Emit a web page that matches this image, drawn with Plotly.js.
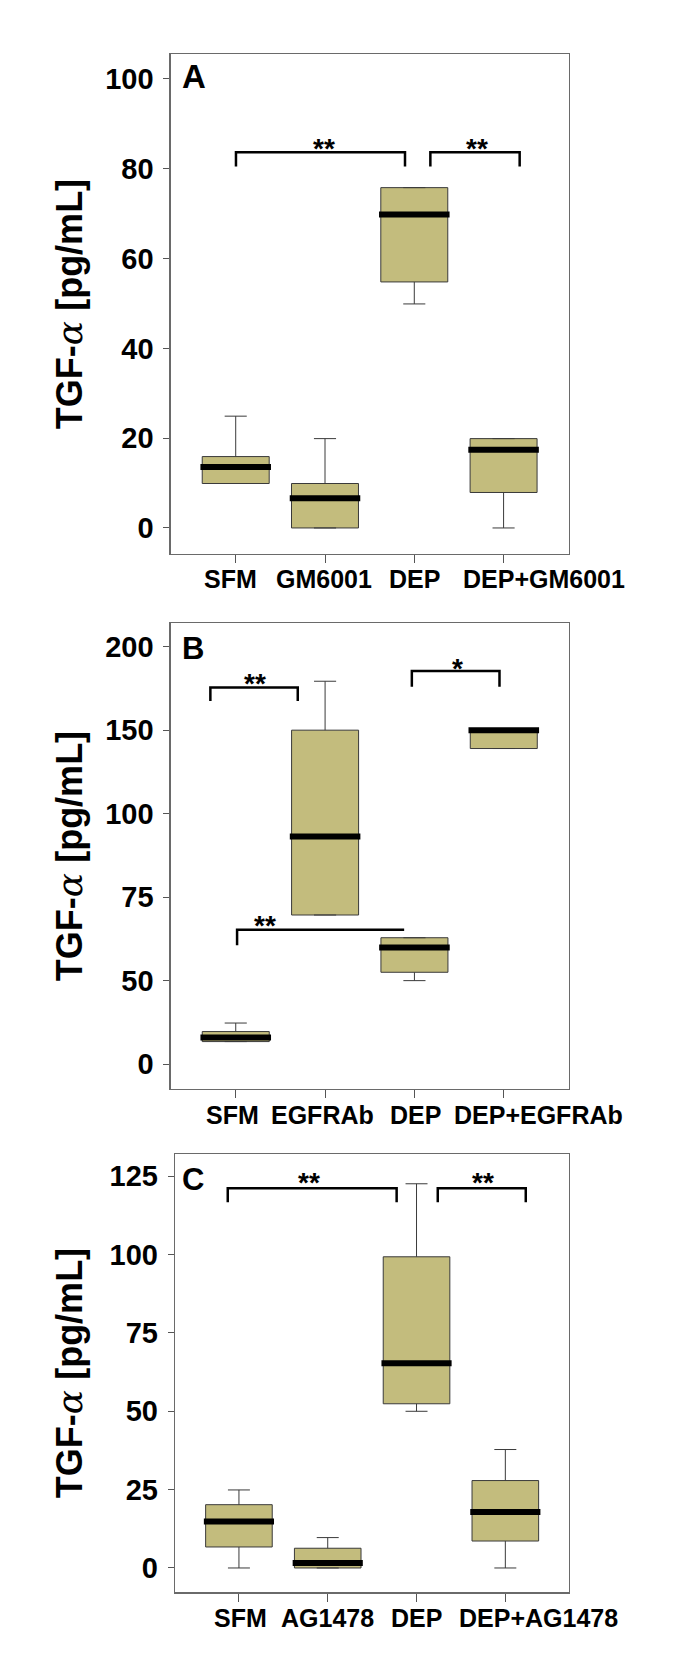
<!DOCTYPE html>
<html>
<head>
<meta charset="utf-8">
<script src="https://cdn.plot.ly/plotly-3.0.1.min.js"></script>
<style>html,body{margin:0;padding:0;background:#fff;}#chart{width:685px;height:1667px;}</style>
</head>
<body>
<div id="chart"></div>
<script>
// ---------------- DATA ----------------
// Panel A
const categoriesA = ['SFM', 'GM6001', 'DEP', 'DEP+GM6001'];
const lowA  = [10.0,  0.0, 49.9,  0.0];
const q1A   = [ 9.9,  0.0, 54.8,  7.9];
const medA  = [13.6,  6.6, 69.8, 17.4];
const q3A   = [15.9,  9.9, 75.8, 19.9];
const highA = [24.9, 19.9, 75.8, 19.9];
const ticksA = [0, 20, 40, 60, 80, 100];
const tickTextA = ['0', '20', '40', '60', '80', '100'];

// Panel B (values in the axis' linear units; the printed tick labels are uneven)
const categoriesB = ['SFM', 'EGFRAb', 'DEP', 'DEP+EGFRAb'];
const lowB  = [13.5,  89.3, 50.0, 189.0];
const q1B   = [13.5,  89.3, 55.0, 189.0];
const medB  = [16.0, 136.3, 69.8, 200.0];
const q3B   = [19.5, 200.0, 75.7, 200.0];
const highB = [24.6, 229.3, 75.7, 200.0];
const ticksB = [0, 50, 100, 150, 200, 250];
const tickTextB = ['0', '50', '75', '100', '150', '200'];

// Panel C
const categoriesC = ['SFM', 'AG1478', 'DEP', 'DEP+AG1478'];
const lowC  = [ 0.0, 0.0,  50.0,  0.0];
const q1C   = [ 6.7, 0.0,  52.4,  8.6];
const medC  = [14.8, 1.6,  65.3, 17.9];
const q3C   = [20.2, 6.3,  99.3, 27.9];
const highC = [24.9, 9.7, 122.6, 37.8];
const ticksC = [0, 25, 50, 75, 100, 125];
const tickTextC = ['0', '25', '50', '75', '100', '125'];

const panelLetters = ['A', 'B', 'C'];
const yTitle = 'TGF-<span style="font-family:\'DejaVu Serif\';font-style:italic;font-weight:normal">α</span> [pg/mL]';

// significance brackets: [from, to, level, legBottom, leftLeg, rightLeg, label, labelX, labelY]
const bracketsA = [
  [1.003, 2.896, 83.7, 80.5, true, true, '**', 1.99, 85.9],
  [3.18, 4.18, 83.7, 80.5, true, true, '**', 3.70, 85.9]
];
const bracketsB = [
  [0.716, 1.694, 225.5, 217.5, true, true, '**', 1.21, 231.7],
  [2.971, 3.952, 235.4, 226.0, true, true, '*', 3.48, 240.6],
  [1.015, 2.885, 80.4, 71.2, true, false, '**', 1.33, 86.6]
];
const bracketsC = [
  [0.874, 2.776, 121.2, 116.7, true, true, '**', 1.79, 124.8],
  [3.239, 4.23, 121.2, 116.7, true, true, '**', 3.745, 124.8]
];

// ---------------- LAYOUT / STYLE ----------------
const W = 685, H = 1667;
const FONT = 'Liberation Sans, Arial, Helvetica, sans-serif';
const FILL = '#c3bc7d';
const panels = [
  {cats: categoriesA, low: lowA, q1: q1A, med: medA, q3: q3A, high: highA, ticks: ticksA, tickText: tickTextA,
   br: bracketsA, left: 170.7, right: 568.5, top: 54.3, bottom: 554, xr: [0.272, 4.727], yr: [-5.8, 105.5],
   labelShift: [-5, -1, 0, 40], letterY: 76.7, letterSize: 33},
  {cats: categoriesB, low: lowB, q1: q1B, med: medB, q3: q3B, high: highB, ticks: ticksB, tickText: tickTextB,
   br: bracketsB, left: 170.7, right: 569, top: 623.3, bottom: 1089, xr: [0.272, 4.73], yr: [-14.9, 264],
   labelShift: [-3.5, -3, 1.5, 35], letterY: 648.2, letterSize: 31},
  {cats: categoriesC, low: lowC, q1: q1C, med: medC, q3: q3C, high: highC, ticks: ticksC, tickText: tickTextC,
   br: bracketsC, left: 175, right: 569, top: 1154, bottom: 1592.3, xr: [0.28, 4.717], yr: [-7.76, 132.1],
   labelShift: [2, 0, 0, 33], letterY: 1179.5, letterSize: 31}
];

const traces = [];
const layout = {
  width: W, height: H, margin: {l: 0, r: 0, t: 0, b: 0},
  paper_bgcolor: '#fff', plot_bgcolor: '#fff', showlegend: false,
  font: {family: FONT, color: '#000'},
  annotations: []
};

panels.forEach((p, k) => {
  const sfx = k === 0 ? '' : String(k + 1);
  const xa = 'x' + sfx, ya = 'y' + sfx;
  const pos = p.cats.map((c, i) => i + 1);

  traces.push({
    type: 'box', xaxis: xa, yaxis: ya, x: pos,
    q1: p.q1, median: p.med, q3: p.q3, lowerfence: p.low, upperfence: p.high,
    width: 0.75, whiskerwidth: 0.33, boxpoints: false,
    fillcolor: FILL, line: {color: '#3a3a3a', width: 1}, hoverinfo: 'skip'
  });

  // thick median bars
  const mx = [], my = [];
  pos.forEach((x, i) => { mx.push(x - 0.395, x + 0.395, null); my.push(p.med[i], p.med[i], null); });
  traces.push({type: 'scatter', mode: 'lines', xaxis: xa, yaxis: ya, x: mx, y: my,
    line: {color: '#000', width: 6}, hoverinfo: 'skip'});

  // brackets
  const bx = [], by = [];
  p.br.forEach(b => {
    const [x0, x1, lv, lb, ll, rl] = b;
    if (ll) { bx.push(x0); by.push(lb); }
    bx.push(x0, x1); by.push(lv, lv);
    if (rl) { bx.push(x1); by.push(lb); }
    bx.push(null); by.push(null);
    layout.annotations.push({xref: xa, yref: ya, x: b[7], y: b[8], text: b[6], showarrow: false,
      font: {family: FONT, size: 28, weight: 'bold', color: '#000'}, yanchor: 'middle', yshift: -6});
  });
  traces.push({type: 'scatter', mode: 'lines', xaxis: xa, yaxis: ya, x: bx, y: by,
    line: {color: '#000', width: 2.5}, hoverinfo: 'skip'});

  const axLine = {showline: true, mirror: true, linecolor: '#6a6a6a', linewidth: 1.3,
    showgrid: false, zeroline: false, ticks: 'outside', tickcolor: '#555', tickwidth: 1};

  layout['xaxis' + sfx] = Object.assign({}, axLine, {
    domain: [p.left / W, p.right / W], anchor: ya, range: p.xr,
    tickvals: pos, showticklabels: false, ticklen: 8
  });
  layout['yaxis' + sfx] = Object.assign({}, axLine, {
    domain: [1 - p.bottom / H, 1 - p.top / H], anchor: xa, range: p.yr,
    tickvals: p.ticks, ticktext: p.tickText, ticklen: 6, ticklabelstandoff: 4,
    tickfont: {family: FONT, size: 29, weight: 'bold', color: '#000'}
  });

  // category labels
  p.cats.forEach((c, i) => {
    layout.annotations.push({xref: xa, yref: ya + ' domain', x: i + 1, y: 0, text: c, showarrow: false,
      xanchor: 'center', yanchor: 'middle', xshift: p.labelShift[i], yshift: -25.5,
      font: {family: FONT, size: 25, weight: 'bold', color: '#000'}});
  });

  // panel letter
  layout.annotations.push({xref: 'paper', yref: 'paper', x: 180 / W, y: 1 - p.letterY / H,
    xanchor: 'left', yanchor: 'middle', text: panelLetters[k], showarrow: false,
    font: {family: FONT, size: p.letterSize, weight: 'bold', color: '#000'}});

  // y title
  layout.annotations.push({xref: 'paper', yref: ya + ' domain', x: 69 / W, y: 0.5,
    xanchor: 'center', yanchor: 'middle', textangle: -90, text: yTitle, showarrow: false,
    font: {family: FONT, size: 36, weight: 'bold', color: '#000'}});
});

Plotly.newPlot('chart', traces, layout, {displayModeBar: false, staticPlot: true});
</script>
</body>
</html>
